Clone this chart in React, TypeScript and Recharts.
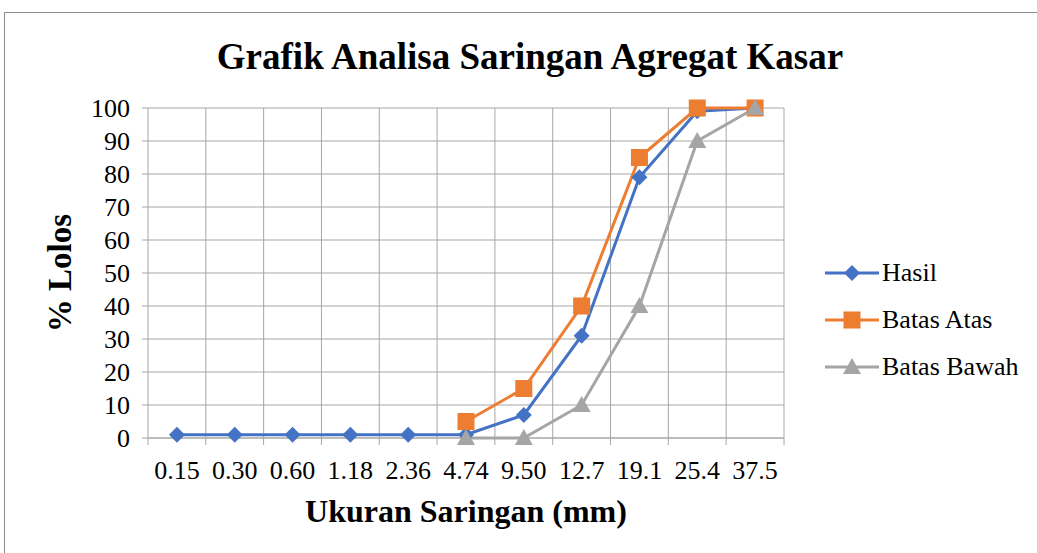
import { LineChart, Line, XAxis, YAxis, CartesianGrid } from 'recharts';

const sieves = ['0.15', '0.30', '0.60', '1.18', '2.36', '4.74', '9.50', '12.7', '19.1', '25.4', '37.5'];
const hasil = [1, 1, 1, 1, 1, 1, 7, 31, 79, 99, 100];
const batasAtas = [null, null, null, null, null, 5, 15, 40, 85, 100, 100];
const batasBawah = [null, null, null, null, null, 0, 0, 10, 40, 90, 100];
const yTicks = [0, 10, 20, 30, 40, 50, 60, 70, 80, 90, 100];

const data = sieves.map((s, i) => ({
  sieve: s,
  hasil: hasil[i],
  atas: batasAtas[i],
  bawah: batasBawah[i],
}));

const FONT = '"Liberation Serif", "Times New Roman", serif';
const BLUE = '#4472C4';
const ORANGE = '#ED7D31';
const GRAY = '#A5A5A5';

function Diamond({ cx, cy, fill }: any) {
  if (cx == null || cy == null) return null;
  const r = 8;
  return <path d={`M${cx},${cy - r}L${cx + r},${cy}L${cx},${cy + r}L${cx - r},${cy}Z`} fill={fill} />;
}

function Square({ cx, cy, fill }: any) {
  if (cx == null || cy == null) return null;
  const r = 8.5;
  return <rect x={cx - r} y={cy - r} width={r * 2} height={r * 2} fill={fill} />;
}

function Triangle({ cx, cy, fill }: any) {
  if (cx == null || cy == null) return null;
  const r = 9;
  return <path d={`M${cx},${cy - r}L${cx + r},${cy + 7}L${cx - r},${cy + 7}Z`} fill={fill} />;
}

const legendItems = [
  { name: 'Hasil', color: BLUE, Marker: Diamond },
  { name: 'Batas Atas', color: ORANGE, Marker: Square },
  { name: 'Batas Bawah', color: GRAY, Marker: Triangle },
];

function XTick(props: any) {
  const { x, y, payload, index } = props;
  const half = 637 / 11 / 2;
  return (
    <g>
      <line x1={x - half} x2={x - half} y1={y - 8} y2={y - 1} stroke="#a6a6a6" />
      {index === sieves.length - 1 && (
        <line x1={x + half} x2={x + half} y1={y - 8} y2={y - 1} stroke="#a6a6a6" />
      )}
      <text x={x} y={y + 33} textAnchor="middle" fontFamily={FONT} fontSize={26} fill="#000">
        {payload.value}
      </text>
    </g>
  );
}

export default function App() {
  return (
    <div style={{ position: 'absolute', left: 0, top: 0, width: 1037, height: 553, overflow: 'hidden', background: '#fff' }}>
      <div
        style={{
          position: 'absolute',
          left: 4,
          top: 12,
          width: 1100,
          height: 700,
          border: '1px solid #8c8c8c',
        }}
      />
      <div
        style={{
          position: 'absolute',
          left: 0,
          width: 1060,
          top: 35,
          textAlign: 'center',
          fontFamily: FONT,
          fontWeight: 'bold',
          fontSize: 37,
          color: '#000',
        }}
      >
        Grafik Analisa Saringan Agregat Kasar
      </div>
      <div style={{ position: 'absolute', left: 0, top: 0 }}>
        <LineChart
          width={1037}
          height={553}
          data={data}
          margin={{ top: 108, right: 253, left: 0, bottom: 0 }}
        >
          <CartesianGrid
            stroke="#a6a6a6"
            strokeWidth={1}
            verticalCoordinatesGenerator={({ offset }: any) =>
              Array.from({ length: sieves.length + 1 }, (_, i) => offset.left + (i * offset.width) / sieves.length)
            }
          />
          <XAxis
            dataKey="sieve"
            scale="band"
            height={115}
            axisLine={{ stroke: '#a6a6a6' }}
            tickLine={false}
            tick={<XTick />}
            interval={0}
            label={{
              value: 'Ukuran Saringan (mm)',
              position: 'insideTop',
              offset: 61,
              style: { fontFamily: FONT, fontWeight: 'bold', fontSize: 32, fill: '#000' },
            }}
          />
          <YAxis
            width={148}
            domain={[0, 100]}
            ticks={yTicks}
            interval={0}
            axisLine={false}
            tickLine={{ stroke: '#a6a6a6' }}
            tickSize={6}
            tickMargin={12}
            tick={{ fontFamily: FONT, fontSize: 26, fill: '#000' }}
            label={{
              value: '% Lolos',
              angle: -90,
              position: 'insideLeft',
              offset: 59,
              style: { fontFamily: FONT, fontWeight: 'bold', fontSize: 33, fill: '#000', textAnchor: 'middle' },
            }}
          />
          <Line
            name="Hasil"
            dataKey="hasil"
            stroke={BLUE}
            strokeWidth={3}
            dot={<Diamond fill={BLUE} />}
            activeDot={false}
            isAnimationActive={false}
          />
          <Line
            name="Batas Atas"
            dataKey="atas"
            stroke={ORANGE}
            strokeWidth={3}
            dot={<Square fill={ORANGE} />}
            activeDot={false}
            isAnimationActive={false}
          />
          <Line
            name="Batas Bawah"
            dataKey="bawah"
            stroke={GRAY}
            strokeWidth={3}
            dot={<Triangle fill={GRAY} />}
            activeDot={false}
            isAnimationActive={false}
          />
        </LineChart>
      </div>
      <div style={{ position: 'absolute', left: 824, top: 249, fontFamily: FONT, fontSize: 26, color: '#000' }}>
        {legendItems.map(({ name, color, Marker }) => (
          <div key={name} style={{ display: 'flex', alignItems: 'center', height: 47 }}>
            <svg width={56} height={20}>
              <line x1={1} x2={55} y1={10} y2={10} stroke={color} strokeWidth={3} />
              <Marker cx={28} cy={10} fill={color} />
            </svg>
            <span style={{ marginLeft: 2 }}>{name}</span>
          </div>
        ))}
      </div>
    </div>
  );
}
